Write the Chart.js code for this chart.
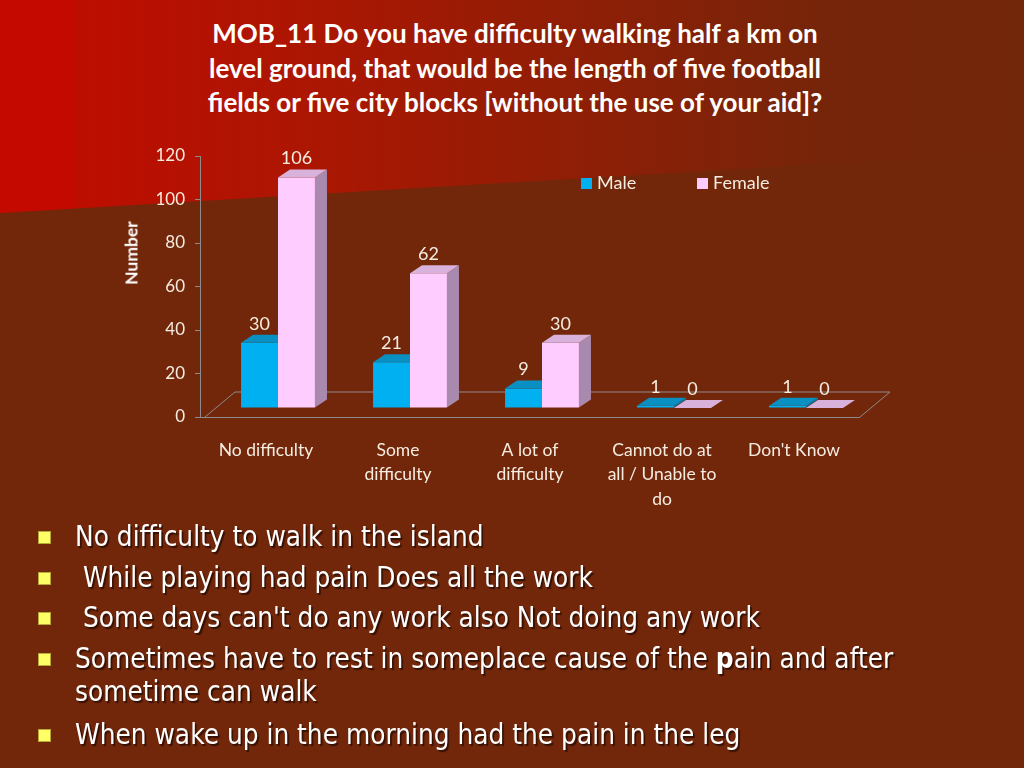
<!DOCTYPE html>
<html>
<head>
<meta charset="utf-8">
<script src="https://cdn.jsdelivr.net/npm/chart.js@4.4.0/dist/chart.umd.min.js"></script>
<style>
  html, body { margin: 0; padding: 0; }
  body { width: 1024px; height: 768px; background: #72260a; position: relative; overflow: hidden; font-family: Lato, "Open Sans", sans-serif; }
  .redband { position: absolute; left: 0; top: 0; width: 1024px; height: 220px;
    clip-path: polygon(0 0, 1024px 0, 1024px 152px, 0 213px);
    background: linear-gradient(90deg, #c40a00 0px, #c40a00 73px, #bd0d01 74px, #aa1703 330px, #8c1f06 600px, #76250a 820px, #72260a 1024px); }
  .title { position: absolute; left: 0; width: 1030px; top: 16px; text-align: center; color: #fff;
    font-weight: bold; font-size: 26px; line-height: 34.5px; }
  #myChart { position: absolute; left: 0; top: 0; }
  .ytitle { position: absolute; left: 131px; top: 253px; transform: translate(-50%, -50%) rotate(-90deg);
    color: #fff; font-weight: bold; font-size: 17.5px; }
  .leg { position: absolute; top: 171px; color: #f5ece0; font-size: 18px; }
  .leg span { display: inline-block; width: 11px; height: 11px; margin-right: 5px; vertical-align: 0px; }
  .bul { position: absolute; left: 38px; width: 13px; height: 13px; background: #ffff66; border: 1px solid #b8a838; box-sizing: border-box; }
  .line { position: absolute; left: 75px; color: #fff; font-family: Tahoma, "DejaVu Sans", sans-serif; font-size: 28px;
    line-height: 33px; white-space: nowrap; transform: scaleX(0.89); transform-origin: left center;
    text-shadow: 2px 2px 1px rgba(0,0,0,0.55); }
</style>
</head>
<body>
<div class="redband"></div>
<div class="title">MOB_11 Do you have difficulty walking half a km on<br>level ground, that would be the length of five football<br>fields or five city blocks [without the use of your aid]?</div>
<canvas id="myChart" width="1024" height="768"></canvas>
<div class="ytitle">Number</div>
<div class="leg" style="left:581px"><span style="background:#00b0f0"></span>Male</div>
<div class="leg" style="left:697px"><span style="background:#ffccff"></span>Female</div>

<div class="bul" style="top:531px"></div><div class="line" style="top:520px">No difficulty to walk in the island</div>
<div class="bul" style="top:572px"></div><div class="line" style="top:561px">&nbsp;While playing had pain Does all the work</div>
<div class="bul" style="top:612px"></div><div class="line" style="top:601px">&nbsp;Some days can't do any work also Not doing any work</div>
<div class="bul" style="top:653px"></div><div class="line" style="top:642px">Sometimes have to rest in someplace cause of the <b>p</b>ain and after<br>sometime can walk</div>
<div class="bul" style="top:729px"></div><div class="line" style="top:718px">When wake up in the morning had the pain in the leg</div>

<script>
// chart values
var categories = [['No difficulty'], ['Some', 'difficulty'], ['A lot of', 'difficulty'], ['Cannot do at', 'all / Unable to', 'do'], ["Don't Know"]];
var maleValues = [30, 21, 9, 1, 1];
var femaleValues = [106, 62, 30, 0, 0];
var yTicks = [0, 20, 40, 60, 80, 100, 120];

var DX = 12, DY = 8;             // depth of each bar
var SHIFT_X = 12, SHIFT_Y = -9;  // bars sit a bit back on the floor

var faceColors = [
  { top: '#0a8fc2', side: '#0778a6' },
  { top: '#d9b2dc', side: '#a98aae' }
];

// 3D look: floor, then each category (male, female), then value labels
const bars3d = {
  id: 'bars3d',
  beforeDatasetsDraw(chart) {
    const ctx = chart.ctx;
    const a = chart.chartArea;
    ctx.save();
    ctx.strokeStyle = '#8c8c8c';
    ctx.lineWidth = 1;
    ctx.beginPath();
    ctx.moveTo(a.left, a.bottom + 0.5);
    ctx.lineTo(a.right, a.bottom + 0.5);
    ctx.moveTo(a.left + 5, a.bottom);
    ctx.lineTo(a.left + 35, a.bottom - 25);
    ctx.lineTo(a.right + 30, a.bottom - 25);
    ctx.lineTo(a.right, a.bottom);
    ctx.stroke();
    ctx.restore();

    const nCat = chart.data.labels.length;
    for (let j = 0; j < nCat; j++) {
      chart.data.datasets.forEach(function (ds, i) {
        const bar = chart.getDatasetMeta(i).data[j];
        const fc = faceColors[i];
        const l = bar.x - bar.width / 2, r = bar.x + bar.width / 2;
        ctx.save();
        ctx.translate(SHIFT_X, SHIFT_Y);
        bar.draw(ctx);
        ctx.fillStyle = fc.side;
        ctx.beginPath();
        ctx.moveTo(r, bar.y);
        ctx.lineTo(r + DX, bar.y - DY);
        ctx.lineTo(r + DX, bar.base - DY);
        ctx.lineTo(r, bar.base);
        ctx.closePath();
        ctx.fill();
        ctx.fillStyle = fc.top;
        ctx.beginPath();
        ctx.moveTo(l, bar.y);
        ctx.lineTo(l + DX, bar.y - DY);
        ctx.lineTo(r + DX, bar.y - DY);
        ctx.lineTo(r, bar.y);
        ctx.closePath();
        ctx.fill();
        ctx.restore();
      });
    }

    ctx.save();
    ctx.fillStyle = '#f5ece0';
    ctx.font = '18px Lato';
    ctx.textAlign = 'center';
    ctx.textBaseline = 'middle';
    chart.data.datasets.forEach(function (ds, i) {
      chart.getDatasetMeta(i).data.forEach(function (bar, j) {
        ctx.fillText(ds.data[j], bar.x + SHIFT_X, bar.y + SHIFT_Y - 19);
      });
    });
    ctx.restore();
    return false;
  }
};

const ctx = document.getElementById('myChart').getContext('2d');
const myChart = new Chart(ctx, {
  type: 'bar',
  data: {
    labels: categories,
    datasets: [{
      label: 'Male',
      data: maleValues,
      backgroundColor: '#00b0f0',
      borderWidth: 0
    }, {
      label: 'Female',
      data: femaleValues,
      backgroundColor: '#ffccff',
      borderWidth: 0
    }]
  },
  options: {
    responsive: false,
    animation: false,
    layout: { padding: { left: 140, top: 156, right: 164, bottom: 256 } },
    datasets: { bar: { categoryPercentage: 0.56, barPercentage: 1.0 } },
    plugins: { legend: { display: false }, tooltip: { enabled: false } },
    scales: {
      x: {
        grid: { display: false },
        border: { display: false },
        ticks: { color: '#f5ece0', font: { family: 'Lato', size: 17.5, lineHeight: 1.4 }, padding: 13, maxRotation: 0, autoSkip: false },
        afterFit: function (s) { s.height = 95; }
      },
      y: {
        min: 0, max: 120,
        afterBuildTicks: function (s) { s.ticks = yTicks.map(function (v) { return { value: v }; }); },
        grid: { drawOnChartArea: false, drawTicks: true, tickLength: 5, color: '#8c8c8c' },
        border: { display: true, color: '#8c8c8c' },
        ticks: { color: '#f5ece0', font: { family: 'Lato', size: 17 }, padding: 10 },
        afterFit: function (s) { s.width = 60; }
      }
    }
  },
  plugins: [bars3d]
});
</script>
</body>
</html>
